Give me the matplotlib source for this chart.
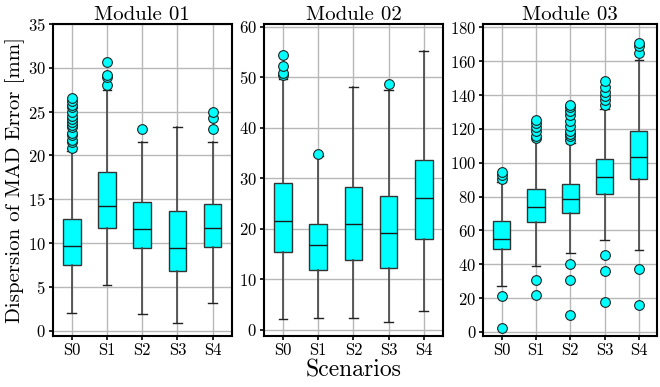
"""
Dispersion of MAD error per scenario, three modules
"""

import matplotlib
matplotlib.use("Agg")
import matplotlib.pyplot as plt

plt.rcParams['font.family'] = 'serif'
plt.rcParams['font.serif'] = ['cmr10']
plt.rcParams['mathtext.fontset'] = 'cm'
plt.rcParams['axes.formatter.use_mathtext'] = True

scenarios = ['S0', 'S1', 'S2', 'S3', 'S4']
modules = ['Module 01', 'Module 02', 'Module 03']

# per module, per scenario: whisker low, q1, median, q3, whisker high
m1_whislo = [2.0, 5.2, 1.9, 0.9, 3.1]
m1_q1 = [7.5, 11.7, 9.45, 6.8, 9.6]
m1_med = [9.65, 14.2, 11.6, 9.45, 11.7]
m1_q3 = [12.8, 18.15, 14.7, 13.65, 14.4]
m1_whishi = [20.5, 27.5, 21.5, 23.3, 21.5]
m1_fliers = [
    [20.9, 21.5, 21.8, 22.3, 22.6, 23.2, 23.5, 23.8, 24.2, 24.5, 25.0, 25.5, 25.8, 26.2, 26.6],
    [28.0, 28.9, 29.2, 30.7],
    [23.0],
    [],
    [23.0, 24.25, 24.95],
]

m2_whislo = [2.1, 2.3, 2.3, 1.6, 3.8]
m2_q1 = [15.4, 11.9, 13.8, 12.3, 17.9]
m2_med = [21.5, 16.8, 20.95, 19.1, 26.0]
m2_q3 = [29.05, 20.9, 28.35, 26.4, 33.5]
m2_whishi = [49.6, 34.3, 48.0, 47.5, 55.2]
m2_fliers = [
    [50.4, 50.8, 52.1, 54.4],
    [34.8],
    [],
    [48.7],
    [],
]

m3_whislo = [27.3, 39.2, 46.6, 54.5, 48.2]
m3_q1 = [49.0, 64.9, 70.4, 81.4, 90.3]
m3_med = [54.7, 73.8, 78.3, 91.5, 103.5]
m3_q3 = [65.5, 84.2, 87.2, 102.3, 118.8]
m3_whishi = [88.3, 113.5, 111.5, 132.0, 160.7]
m3_fliers = [
    [2.4, 21.2, 90.3, 92.9, 94.4],
    [21.6, 30.5, 114.5, 115.9, 119.0, 121.4, 123.4, 125.3],
    [10.0, 30.9, 40.3, 113.5, 115.5, 117.1, 119.0, 121.8, 124.9, 128.3, 130.6, 132.8, 134.0],
    [17.7, 35.8, 45.4, 134.0, 137.1, 139.5, 142.0, 144.6, 148.5],
    [16.1, 37.0, 165.1, 169.2, 170.6],
]

module_data = [
    (m1_whislo, m1_q1, m1_med, m1_q3, m1_whishi, m1_fliers),
    (m2_whislo, m2_q1, m2_med, m2_q3, m2_whishi, m2_fliers),
    (m3_whislo, m3_q1, m3_med, m3_q3, m3_whishi, m3_fliers),
]
y_limits = [(-0.6, 35), (-1.2, 60.5), (-2.4, 182)]
y_ticks = [range(0, 36, 5), range(0, 61, 10), range(0, 181, 20)]

fig = plt.figure(figsize=(6.6, 3.87), dpi=100)
lefts = [0.080, 0.400, 0.732]
widths = [0.271, 0.271, 0.264]

for i, (whislo, q1, med, q3, whishi, fliers) in enumerate(module_data):
    ax = fig.add_axes([lefts[i], 0.132, widths[i], 0.806])
    stats = []
    for j in range(len(scenarios)):
        stats.append(dict(whislo=whislo[j], q1=q1[j], med=med[j], q3=q3[j],
                          whishi=whishi[j], fliers=fliers[j]))
    ax.bxp(stats, positions=range(1, 6), widths=0.5, patch_artist=True,
           boxprops=dict(facecolor='#00ffff', edgecolor='#333333', linewidth=1.0),
           medianprops=dict(color='#1a1a1a', linewidth=1.0),
           whiskerprops=dict(color='#444444', linewidth=1.2),
           capprops=dict(color='#222222', linewidth=1.0),
           flierprops=dict(marker='o', markerfacecolor='#00ffff',
                           markeredgecolor='#222222', markersize=7,
                           markeredgewidth=0.8))
    ax.set_xlim(0.46, 5.54)
    ax.set_ylim(*y_limits[i])
    ax.set_yticks(list(y_ticks[i]))
    ax.set_xticks(range(1, 6))
    ax.set_xticklabels(scenarios)
    ax.grid(True, color='#b8b8b8', linewidth=1.0)
    ax.set_axisbelow(True)
    for spine in ax.spines.values():
        spine.set_linewidth(1.5)
    ax.tick_params(labelsize=12, length=3, width=1.2, pad=2)
    ax.set_title(modules[i], fontsize=15, pad=3)
    if i == 0:
        ax.set_ylabel('Dispersion of MAD Error [mm]', fontsize=15, labelpad=2)
    if i == 1:
        ax.set_xlabel('Scenarios', fontsize=17, labelpad=1)

plt.savefig('out.png', dpi=100)
